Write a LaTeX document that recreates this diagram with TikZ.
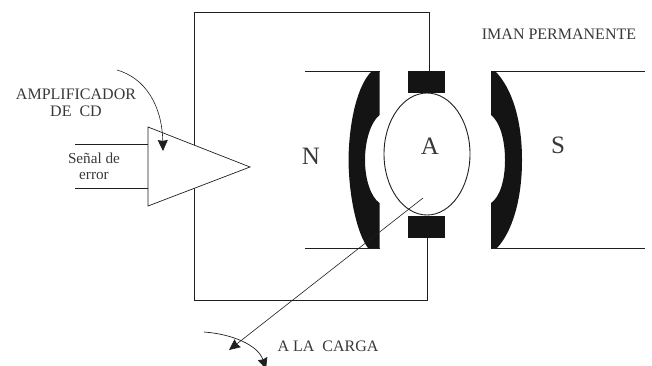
\documentclass[tikz,border=0pt]{standalone}
\usepackage{fontspec}
\setmainfont{Liberation Serif}
\usetikzlibrary{arrows.meta,shapes.geometric}
\definecolor{ink}{gray}{0.12}
\definecolor{txt}{gray}{0.22}
\tikzset{
  wire/.style={draw=ink,line width=0.9pt},
  thin wire/.style={draw=ink,line width=0.7pt},
  pole/.style={fill=black!92,draw=none},
  brush/.style={fill=black!92,draw=none,minimum width=37pt,minimum height=22pt,inner sep=0pt},
  lab/.style={text=txt,font=\fontsize{16}{18}\selectfont,inner sep=0pt},
  lows/.style={text=txt,font=\fontsize{15.2}{18}\selectfont,inner sep=0pt},
  big/.style={text=txt,font=\fontsize{25}{27}\selectfont,inner sep=0pt},
  tip/.style={-{Stealth[length=11pt,width=10pt,inset=1pt]}}
}
\begin{document}
\begin{tikzpicture}[x=1pt,y=-1pt]
\useasboundingbox (0,0) rectangle (652,365);
\clip (0,0) rectangle (652,365);
% named anchors
\coordinate (tl) at (194,12);
\coordinate (tr) at (429,12);
\coordinate (bl) at (194,300);
\coordinate (br) at (427,300);
\coordinate (in1) at (75,144);
\coordinate (in1e) at (148,144);
\coordinate (in2) at (75,188);
\coordinate (in2e) at (148,188);
\coordinate (shaft) at (423,198);
\coordinate (load) at (229,350);
% loop wiring
\node[brush] (bt) at (426.5,82) {};
\node[brush] (bb) at (426.5,227) {};
\draw[wire] (bl) -- (tl) -- (tr) -- (tr |- bt.north);
\draw[wire] (bl) -- (br) -- (br |- bb.south);
% amplifier
\draw[thin wire,fill=white] (148,127) coordinate (a1) -- (250,167) coordinate (a2) -- (148,206) coordinate (a3) -- cycle;
\draw[thin wire] (in1) -- (in1e);
\draw[thin wire] (in2) -- (in2e);
\coordinate (ampS) at (117,70);
\coordinate (ampE) at (163,151);
\draw[draw=ink,line width=0.6pt,tip] (ampS) .. controls (145,78) and (162,105) .. (ampE);
% pole pieces
\draw[thin wire] (305,71) -- (380,71);
\draw[thin wire] (305,248) -- (380,248);
\draw[thin wire] (491,71) -- (645,71);
\draw[thin wire] (491,248) -- (645,248);
\fill[pole] (379.5,71) -- (372,71) .. controls (358,84) and (349,120) .. (348.5,160)
  .. controls (349,200) and (358,235) .. (368,248) -- (379.5,248) -- (379.5,203)
  .. controls (371,197) and (365,180) .. (365,160) .. controls (365,140) and (371,122) .. (379.5,115) -- cycle;
\fill[pole] (491,71) -- (495,71) .. controls (512,88) and (522,120) .. (522,160)
  .. controls (522,200) and (512,232) .. (497,248) -- (491,248) -- (491,203)
  .. controls (500,197) and (505,180) .. (505,160) .. controls (505,140) and (500,122) .. (491,115) -- cycle;
% armature
\node[ellipse,draw=ink,line width=0.9pt,fill=white,minimum width=86pt,minimum height=122pt,inner sep=0pt] (arm) at (427,154) {};
\node[brush] at (bt) {};
\node[brush] at (bb) {};
% shaft and rotation
\draw[draw=ink,line width=0.6pt,tip] (shaft) -- (load);
\coordinate (rotS) at (204,332);
\coordinate (rotE) at (266,369);
\draw[draw=ink,line width=0.7pt,tip] (rotS) .. controls (232,334) and (258,345) .. (rotE);
% labels
\node[lab] (t1) at (76,94) {AMPLIFICADOR};
\node[lab] (t2) at (76,111) {DE\ \ CD};
\node[lows] (t3) at (94,158) {Señal de};
\node[lows] (t4) at (94,176) {error};
\node[big] (N) at (311,156) {N};
\node[big] (A) at (430,146) {A};
\node[big] (S) at (558,145) {S};
\node[lab] (t5) at (559,34) {IMAN PERMANENTE};
\node[lab] (t6) at (328,346) {A LA\ \ CARGA};
\end{tikzpicture}
\end{document}
